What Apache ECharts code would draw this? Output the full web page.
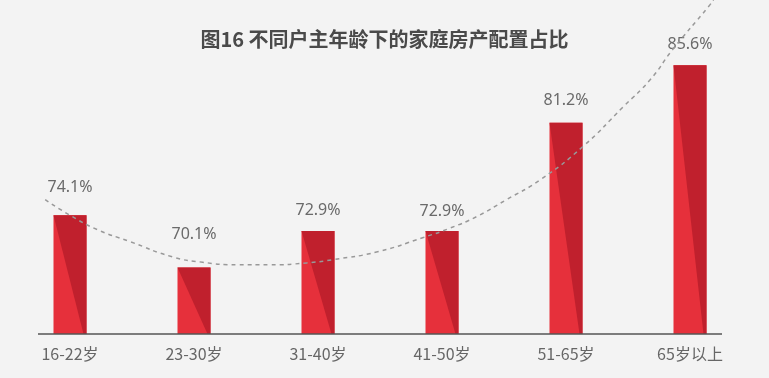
<!DOCTYPE html>
<html>
<head>
<meta charset="utf-8">
<script src="https://cdn.jsdelivr.net/npm/echarts@6.0.0/dist/echarts.min.js"></script>
<style>
  html, body { margin: 0; padding: 0; background: #f3f3f3; }
  #chart { width: 769px; height: 378px; }
</style>
</head>
<body>
<div id="chart"></div>
<script>
// --- data ---
const categories = ['16-22岁', '23-30岁', '31-40岁', '41-50岁', '51-65岁', '65岁以上'];
const shares = [74.1, 70.1, 72.9, 72.9, 81.2, 85.6];
// trend curve: [category position, value]
const trendPoints = [
  [-0.2, 75.3], [0, 74.1], [0.22, 73.0], [0.48, 72.1], [0.83, 70.9], [1.07, 70.5],
  [1.35, 70.3], [1.61, 70.3], [1.91, 70.45], [2.12, 70.7], [2.48, 71.3], [2.85, 72.4],
  [3.06, 73.1], [3.28, 74.0], [3.52, 75.3], [3.79, 76.8], [4.14, 79.4], [4.46, 82.4],
  [4.68, 84.5], [4.86, 86.8], [5.15, 90.1], [5.19, 90.6]
];

// label lift above each bar (px)
const labelGap = [28, 33, 20, 19, 22, 21];

const chart = echarts.init(document.getElementById('chart'));

chart.setOption({
  backgroundColor: '#f3f3f3',
  animation: false,
  title: {
    text: '图16 不同户主年龄下的家庭房产配置占比',
    left: 'center',
    top: 24,
    textStyle: { fontSize: 20, fontWeight: 'bold', color: '#4a4a4a', fontFamily: 'Noto Sans CJK SC' }
  },
  grid: { left: 8, right: 17, top: 0, bottom: 44 },
  xAxis: [
    {
      type: 'category',
      data: categories,
      axisLine: { show: false },
      axisTick: { show: false },
      axisLabel: { color: '#666', fontSize: 16, margin: 12, fontFamily: 'Noto Sans CJK SC' }
    },
    { type: 'value', min: -0.5, max: 5.5, show: false }
  ],
  yAxis: { type: 'value', min: 65, max: 90.6, show: false },
  graphic: [{
    type: 'line',
    shape: { x1: 38, y1: 334, x2: 722, y2: 334 },
    style: { stroke: '#555', lineWidth: 1.5 },
    z: 5
  }],
  series: [
    {
      type: 'custom',
      xAxisIndex: 0,
      data: shares.map((v, i) => [i, v]),
      renderItem: (params, api) => {
        const i = api.value(0);
        const top = api.coord([i, api.value(1)]);
        const base = api.coord([i, 65]);
        const w = 33;
        const x0 = top[0] - w / 2, x1 = top[0] + w / 2;
        const y0 = top[1], y1 = base[1];
        return {
          type: 'group',
          children: [
            { type: 'rect', shape: { x: x0, y: y0, width: w, height: y1 - y0 },
              style: { fill: '#e6303b' } },
            { type: 'polygon', shape: { points: [[x0, y0], [x1, y0], [x1, y1], [x1 - 3, y1]] },
              style: { fill: '#c0202d' } },
            { type: 'text',
              style: {
                text: api.value(1).toFixed(1) + '%',
                x: top[0], y: y0 - labelGap[params.dataIndex],
                align: 'center', verticalAlign: 'middle',
                fill: '#6a6a6a', font: '16px "Noto Sans", sans-serif'
              } }
          ]
        };
      },
      z: 2
    },
    {
      type: 'line',
      xAxisIndex: 1,
      data: trendPoints,
      smooth: true,
      symbol: 'none',
      clip: false,
      lineStyle: { color: '#999', width: 1.5, type: [4, 4] },
      z: 3
    }
  ]
});
</script>
</body>
</html>
